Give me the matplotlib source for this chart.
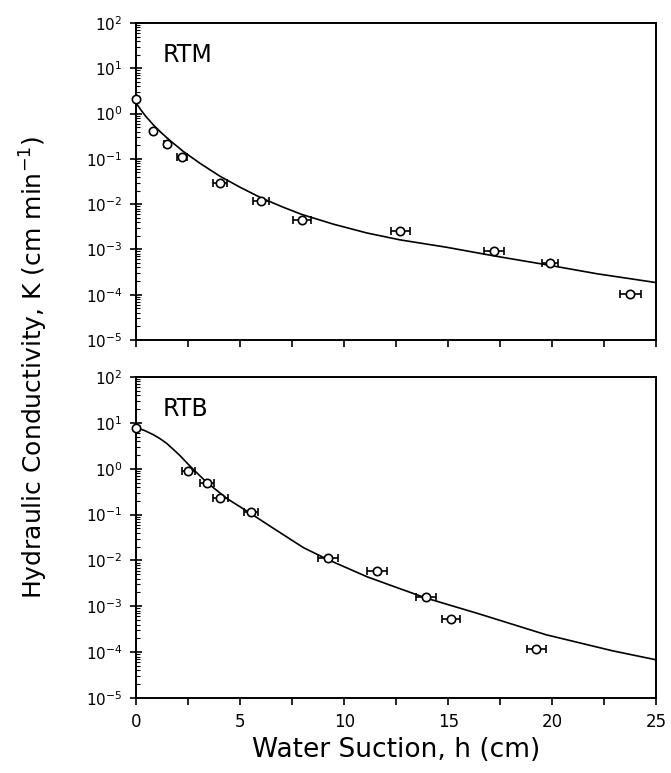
import matplotlib
matplotlib.use('agg')
import matplotlib.pyplot as plt
import matplotlib.ticker as plticker

# measured points, RTM (top panel)
rtm_h = [0.0, 0.83, 1.47, 2.2, 4.04, 6.0, 7.97, 12.7, 17.2, 19.9, 23.75]
rtm_K = [2.1, 0.41, 0.21, 0.11, 0.029, 0.0118, 0.0044, 0.0026, 9.4e-4, 5.0e-4, 1.04e-4]
rtm_herr = [0.0, 0.0, 0.15, 0.26, 0.34, 0.40, 0.42, 0.46, 0.48, 0.40, 0.50]

# fitted curve, RTM
rtm_fit_h = [0.0, 0.2, 0.45, 0.83, 1.2, 1.6, 2.27, 3.08, 4.04, 5.0, 6.0, 7.0, 7.97, 9.49,
             11.1, 12.7, 14.9, 17.2, 19.7, 22.15, 25.0]
rtm_fit_K = [1.7, 1.25, 0.88, 0.56, 0.38, 0.26, 0.145, 0.079, 0.041, 0.0235, 0.0138,
             0.0088, 0.0059, 0.0036, 0.0023, 0.00162, 0.00112, 7.2e-4, 4.6e-4,
             2.9e-4, 1.85e-4]

# measured points, RTB (bottom panel)
rtb_h = [0.0, 2.51, 3.4, 4.04, 5.51, 9.2, 11.57, 13.94, 15.13, 19.23]
rtb_K = [7.6, 0.89, 0.48, 0.23, 0.115, 0.0115, 0.006, 0.0016, 5.2e-4, 1.15e-4]
rtb_herr = [0.0, 0.32, 0.35, 0.35, 0.35, 0.48, 0.48, 0.48, 0.45, 0.45]

# fitted curve, RTB
rtb_fit_h = [0.0, 0.4, 0.83, 1.15, 1.47, 1.8, 2.12, 2.45, 2.76, 3.4, 4.36, 5.51, 6.6,
             8.04, 9.2, 11.1, 12.7, 13.94, 16.5, 19.7, 22.9, 25.0]
rtb_fit_K = [7.9, 6.8, 5.5, 4.5, 3.55, 2.6, 1.9, 1.32, 0.95, 0.5, 0.224, 0.105, 0.050,
             0.019, 0.0105, 0.0044, 0.0024, 0.00151, 6.8e-4, 2.4e-4, 1.07e-4, 6.8e-5]

panel_names = ["RTM", "RTB"]
ytick_vals = [1e-5, 1e-4, 1e-3, 1e-2, 1e-1, 1e0, 1e1, 1e2]
xtick_vals = [0, 5, 10, 15, 20, 25]

fig = plt.figure(figsize=(6.71, 7.73), dpi=100)
ax_top = fig.add_axes([0.203, 0.5602, 0.775, 0.410])
ax_bot = fig.add_axes([0.203, 0.0970, 0.775, 0.4153])

datasets = [
    (ax_top, rtm_h, rtm_K, rtm_herr, rtm_fit_h, rtm_fit_K, panel_names[0]),
    (ax_bot, rtb_h, rtb_K, rtb_herr, rtb_fit_h, rtb_fit_K, panel_names[1]),
]

for ax, h, K, herr, fh, fK, name in datasets:
    ax.plot(fh, fK, color='black', linewidth=1.2, zorder=2)
    ax.errorbar(h, K, xerr=herr, fmt='o', markersize=6, markerfacecolor='white',
                markeredgecolor='black', markeredgewidth=1.2, ecolor='black',
                elinewidth=1.2, capsize=3, capthick=1.2, zorder=3, clip_on=False)
    ax.set_yscale('log')
    ax.set_ylim(1e-5, 1e2)
    ax.set_xlim(0, 25)
    ax.set_yticks(ytick_vals)
    ax.yaxis.set_minor_locator(plticker.LogLocator(base=10, subs=range(2, 10), numticks=20))
    ax.yaxis.set_minor_formatter(plticker.NullFormatter())
    ax.set_xticks(xtick_vals)
    ax.xaxis.set_minor_locator(plticker.MultipleLocator(2.5))
    ax.tick_params(axis='y', which='major', direction='inout', length=8, width=1.2,
                   labelsize=11, pad=6)
    ax.tick_params(axis='y', which='minor', direction='in', length=3, width=0.8)
    ax.tick_params(axis='x', which='both', direction='out', length=5, width=1.2,
                   labelsize=12, pad=6)
    for s in ax.spines.values():
        s.set_linewidth(1.4)
    ax.text(0.05, 0.90, name, transform=ax.transAxes, fontsize=17,
            va='center', ha='left')

ax_top.tick_params(axis='x', labelbottom=False)

fig.text(0.59, 0.030, "Water Suction, h (cm)", fontsize=19, ha='center', va='center')
fig.text(0.05, 0.525, r"Hydraulic Conductivity, K (cm min$^{-1}$)", fontsize=18,
         rotation=90, ha='center', va='center')

plt.savefig("out.png", dpi=100)
plt.close(fig)
